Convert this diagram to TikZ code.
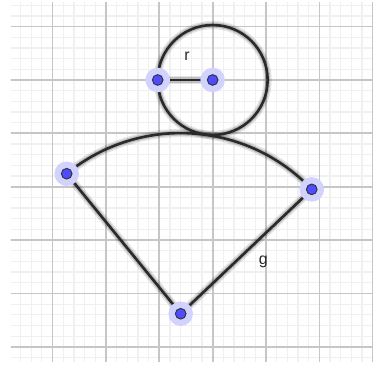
\documentclass[tikz,border=0pt]{standalone}
\usepackage{fontspec}
\setmainfont{Liberation Sans}
\usepackage{xcolor}
\usetikzlibrary{calc}
\definecolor{PtBlue}{HTML}{4D4DFF}
\definecolor{PtHalo}{HTML}{D2D2FF}
\definecolor{Ink}{HTML}{2A2A2A}
\definecolor{GridMin}{HTML}{F0F0F0}
\definecolor{GridMaj}{HTML}{C6C6C6}

\begin{document}
\begin{tikzpicture}[font=\fontsize{8.5}{10}\selectfont,
    glow/.style={line width=4.4pt,black,opacity=0.10,line cap=round},
    glowin/.style={line width=2.8pt,black,opacity=0.16,line cap=round},
    curve/.style={line width=1.4pt,Ink,line cap=round},
    pt/.style={circle,draw=black!80,fill=PtBlue,line width=0.5pt,
      inner sep=0pt,minimum size=0.2cm},
    halo/.style={circle,fill=PtHalo,inner sep=0pt,minimum size=0.46cm},
    lbl/.style={inner sep=0pt,text=black!85}]
  \useasboundingbox (-2.986,-2.324) rectangle (4.005,4.499);
  % grid
  \begin{scope}
    \clip (-2.78,-2.27) rectangle (4.005,4.46);
    \draw[GridMin,line width=0.6pt,step=0.2] (-3,-2.4) grid (4.2,4.6);
    \draw[GridMaj,line width=0.9pt,step=1] (-3,-2.4) grid (4.2,4.6);
  \end{scope}
  % points of the figure
  \coordinate (C) at (1,3);
  \coordinate (P) at (-0.03,3);
  \coordinate (V) at (0.401,-1.381);
  \coordinate (A) at (-1.736,1.243);
  \coordinate (B) at (2.857,0.950);
  % shadows
  \foreach \s in {glow,glowin}{
    \draw[\s] (C) circle[radius=1.03];
    \draw[\s] (B) arc[start angle=43.5,end angle=129.16,radius=3.385];
    \draw[\s] (A) -- (V) -- (B);
    \draw[\s] (P) -- (C);
  }
  % strokes
  \draw[curve] (C) circle[radius=1.03];
  \draw[curve] (B) arc[start angle=43.5,end angle=129.16,radius=3.385];
  \draw[curve] (A) -- (V) -- (B);
  \draw[curve] (P) -- (C);
  % labels
  \node[lbl] (r) at (0.52,3.45) {r};
  \node[lbl] (g) at (1.95,-0.40) {g};
  % point markers
  \foreach \p in {C,P,V,A,B}{
    \node[halo] (h\p) at (\p) {};
    \node[pt] (n\p) at (\p) {};
  }
\end{tikzpicture}
\end{document}
